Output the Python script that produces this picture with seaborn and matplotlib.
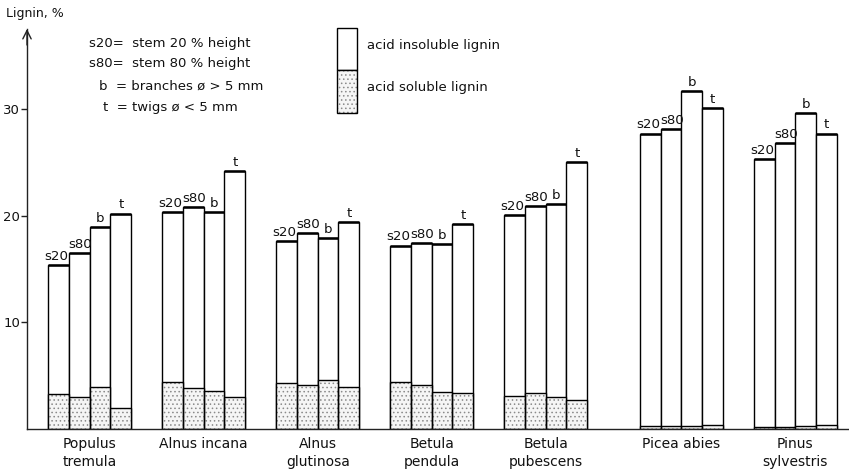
import matplotlib
matplotlib.use("Agg")
import matplotlib.pyplot as plt
from matplotlib.patches import Rectangle
import pandas as pd
import seaborn as sns

# Lignin content of wood samples by species and sampling part
species = ["Populus\ntremula", "Alnus incana", "Alnus\nglutinosa", "Betula\npendula",
           "Betula\npubescens", "Picea abies", "Pinus\nsylvestris"]
parts = ["s20", "s80", "b", "t"]

# acid soluble lignin, % (s20, s80, b, t)
soluble = [
    [3.3, 3.0, 3.9, 2.0],
    [4.4, 3.8, 3.6, 3.0],
    [4.3, 4.1, 4.6, 3.9],
    [4.4, 4.1, 3.5, 3.4],
    [3.1, 3.4, 3.0, 2.7],
    [0.3, 0.3, 0.3, 0.4],
    [0.2, 0.2, 0.3, 0.4],
]
# acid insoluble lignin, % (s20, s80, b, t)
insoluble = [
    [12.1, 13.5, 15.0, 18.2],
    [15.9, 17.0, 16.7, 21.2],
    [13.3, 14.3, 13.3, 15.5],
    [12.8, 13.3, 13.8, 15.8],
    [17.0, 17.5, 18.1, 22.3],
    [27.4, 27.8, 31.4, 29.7],
    [25.1, 26.6, 29.3, 27.3],
]

# hardwoods side by side, the two conifers set a little apart
group_pos = [0, 1, 2, 3, 4, 5.19, 6.19]

rows = []
for g, pos in enumerate(group_pos):
    for k, part in enumerate(parts):
        rows.append({"pos": pos, "part": part,
                     "soluble": soluble[g][k],
                     "total": soluble[g][k] + insoluble[g][k]})
df = pd.DataFrame(rows)

sns.set_style("white")
plt.rcParams["font.family"] = ["DejaVu Sans"]
plt.rcParams["hatch.linewidth"] = 0.6
plt.rcParams["text.color"] = "#111111"
plt.rcParams["xtick.color"] = "#111111"
plt.rcParams["ytick.color"] = "#111111"

W, H = 849, 474
fig = plt.figure(figsize=(W / 100, H / 100), dpi=100)
ax = fig.add_axes([27 / W, 1 - 429 / H, 1 - 27 / W, (429 - 29) / H])

common = dict(data=df, x="pos", hue="part", hue_order=parts, native_scale=True,
              width=0.728, gap=0, errorbar=None, legend=False, saturation=1, ax=ax)

# full bar height = insoluble + soluble, white with black outline
sns.barplot(y="total", palette={p: "white" for p in parts},
            edgecolor="black", linewidth=1.0, **common)
total_containers = list(ax.containers)

# stippled soluble fraction at the bottom of each bar
sns.barplot(y="soluble", palette={p: "#f5f5f5" for p in parts},
            edgecolor="#8a8a8a", linewidth=0, hatch="....", **common)
sns.barplot(y="soluble", palette={p: "black" for p in parts},
            fill=False, linewidth=1.0, **common)

# heavier top edge and part label above each bar
label_shift = {"s20": -1.5, "s80": 0.5, "b": 0, "t": 0}
for part, cont in zip(parts, total_containers):
    for patch in cont.patches:
        x0 = patch.get_x()
        w = patch.get_width()
        top = patch.get_y() + patch.get_height()
        ax.plot([x0, x0 + w], [top, top], color="black", lw=1.8,
                solid_capstyle="butt", zorder=5)
        ax.annotate(part, (x0 + w / 2, top), xytext=(label_shift[part], 1.5),
                    textcoords="offset points", ha="center", va="bottom",
                    fontsize=9.6)

ax.set_xlim(-0.55, 6.66)
ax.set_ylim(0, 37.5)
ax.set_xlabel("")
ax.set_ylabel("")
for side in ("top", "right"):
    ax.spines[side].set_visible(False)
for side in ("left", "bottom"):
    ax.spines[side].set_color("#222222")
    ax.spines[side].set_linewidth(1.0)

ax.set_yticks([10, 20, 30])
ax.set_yticklabels(["10", "20", "30"], fontsize=9.5)
ax.tick_params(axis="y", direction="out", length=4, width=1, color="#222222",
               pad=1, left=True)
ax.set_xticks(group_pos)
ax.set_xticklabels(species, fontsize=10, linespacing=1.35)
ax.tick_params(axis="x", length=0, pad=6)

# arrow head on the y axis
ax.annotate("", xy=(0, 1.0), xycoords="axes fraction", xytext=(0, 0.96),
            textcoords="axes fraction",
            arrowprops=dict(arrowstyle="->", lw=1.0, color="#222222",
                            mutation_scale=15, shrinkA=0, shrinkB=0))
fig.text(6 / W, 1 - 14 / H, "Lignin, %", fontsize=9, va="center", ha="left")

# abbreviations for the sampling parts
defs = [("s20=  stem 20 % height", 89, 43),
        ("s80=  stem 80 % height", 89, 64),
        ("b  = branches ø > 5 mm", 99, 86),
        ("t  = twigs ø < 5 mm", 103, 107)]
for txt, px, py in defs:
    fig.text(px / W, 1 - py / H, txt, fontsize=9.5, va="center", ha="left")

# key for the two lignin fractions
fig.add_artist(Rectangle((337 / W, 1 - 70 / H), 20 / W, 42 / H,
                         transform=fig.transFigure, facecolor="white",
                         edgecolor="black", lw=1.0))
fig.add_artist(Rectangle((337 / W, 1 - 113 / H), 20 / W, 43 / H,
                         transform=fig.transFigure, facecolor="#f5f5f5",
                         edgecolor="#8a8a8a", lw=0, hatch="...."))
fig.add_artist(Rectangle((337 / W, 1 - 113 / H), 20 / W, 43 / H,
                         transform=fig.transFigure, fill=False,
                         edgecolor="black", lw=1.0))
fig.text(367 / W, 1 - 46 / H, "acid insoluble lignin", fontsize=9.5,
         va="center", ha="left")
fig.text(367 / W, 1 - 87 / H, "acid soluble lignin", fontsize=9.5,
         va="center", ha="left")

fig.savefig("out.png", dpi=100)
